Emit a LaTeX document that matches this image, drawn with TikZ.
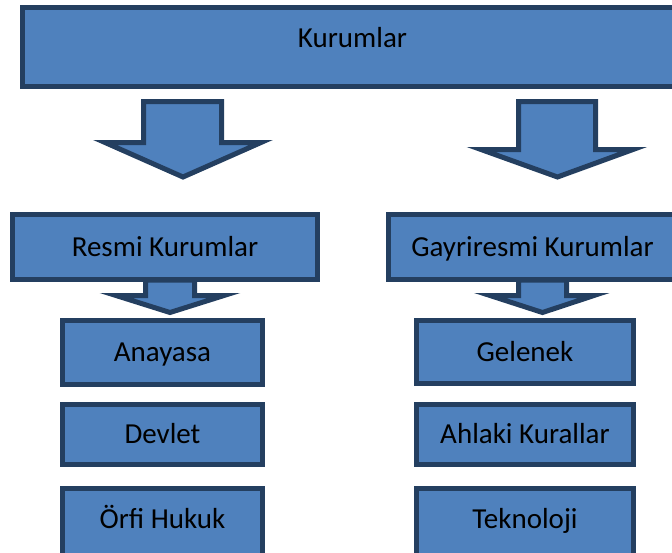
\documentclass[tikz,border=0pt]{standalone}
\usepackage{fontspec}
\setmainfont{Carlito}
\definecolor{boxfill}{HTML}{4F81BD}
\definecolor{boxline}{HTML}{243F60}
\begin{document}
\begin{tikzpicture}[x=0.75pt,y=-0.75pt,
  blk/.style={draw=boxline,fill=boxfill,line width=3.75pt},
  box/.style={blk,rectangle,inner sep=0pt,text height=14pt,text depth=0pt,
    font=\fontsize{21.75}{26}\selectfont,text=black},
  blockarrow/.style={blk,line join=miter}]
\useasboundingbox (0,0) rectangle (672,553);
\clip (0,0) rectangle (672,553);
% block arrows
\filldraw[blockarrow] (143.5,101.5) -- (221.5,101.5) -- (221.5,142.5) -- (261,142.5) -- (183,177) -- (105,142.5) -- (143.5,142.5) -- cycle;
\filldraw[blockarrow] (518.5,101.5) -- (595.5,101.5) -- (595.5,149.5) -- (633,149.5) -- (557.5,177) -- (481,149.5) -- (518.5,149.5) -- cycle;
\filldraw[blockarrow] (145.5,280) -- (194.5,280) -- (194.5,295.5) -- (224,295.5) -- (170,312.5) -- (116,295.5) -- (145.5,295.5) -- cycle;
\filldraw[blockarrow] (518.5,280) -- (566.5,280) -- (566.5,295.5) -- (594,295.5) -- (542.5,312.5) -- (490,295.5) -- (518.5,295.5) -- cycle;
% boxes
\node[box,minimum width=495pt,minimum height=59.25pt,text depth=14pt] (kurumlar) at (352.5,47) {Kurumlar};
\node[box,minimum width=228.75pt,minimum height=48.75pt] (resmi) at (165,247) {Resmi Kurumlar};
\node[box,minimum width=216pt,minimum height=48.75pt] (gayri) at (532.5,247) {Gayriresmi Kurumlar};
\node[box,minimum width=150pt,minimum height=48pt] (anayasa) at (162.5,352.5) {Anayasa};
\node[box,minimum width=150pt,minimum height=45pt] (devlet) at (162.5,434.5) {Devlet};
\node[box,minimum width=150pt,minimum height=68.6pt,text depth=22.8pt] (orfi) at (162.5,534.25) {Örfi Hukuk};
\node[box,minimum width=162.75pt,minimum height=47.25pt] (gelenek) at (525,352) {Gelenek};
\node[box,minimum width=162.75pt,minimum height=45pt] (ahlaki) at (525,434.5) {Ahlaki Kurallar};
\node[box,minimum width=162.75pt,minimum height=68.6pt,text depth=22.8pt] (teknoloji) at (525,534.25) {Teknoloji};
\end{tikzpicture}
\end{document}
